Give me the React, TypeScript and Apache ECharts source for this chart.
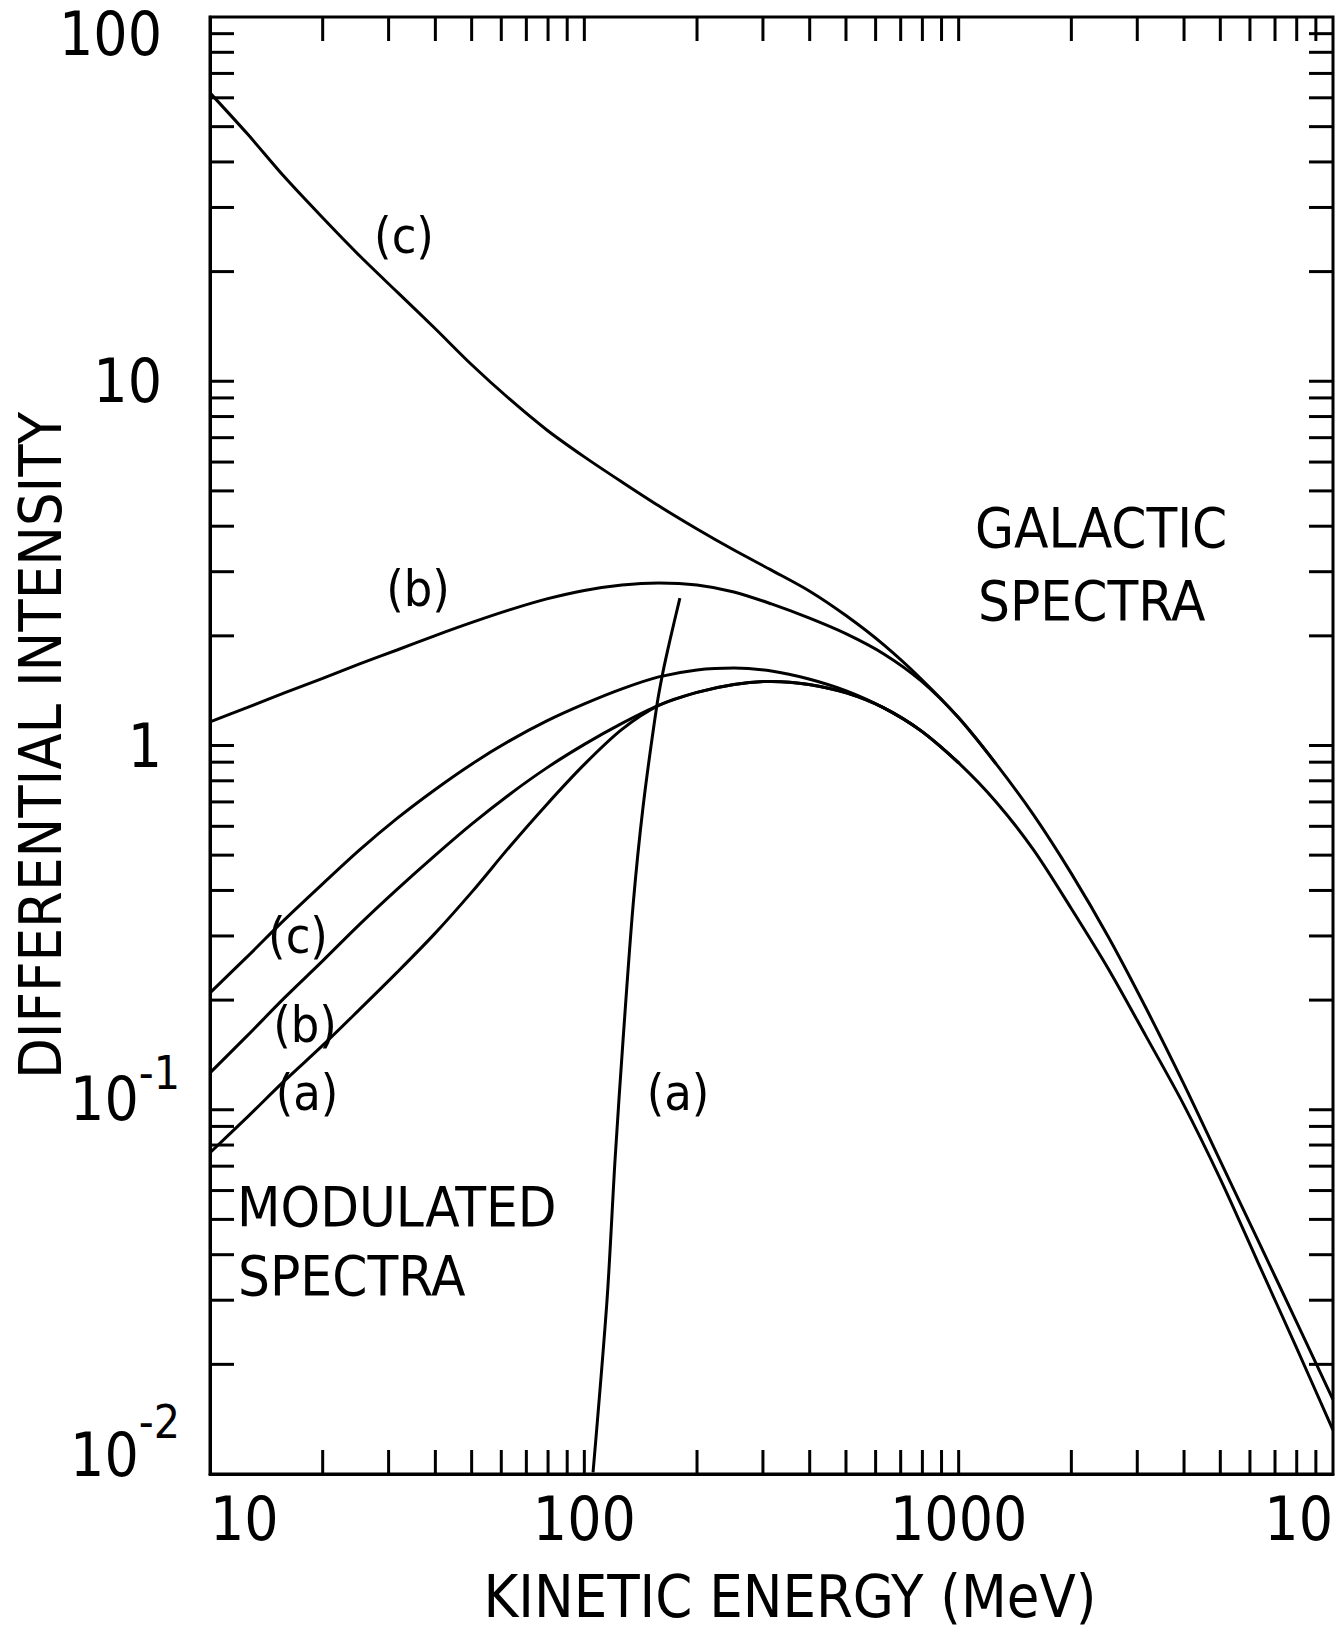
import React, { useEffect, useRef } from "react";
import * as echarts from "echarts";

// ---- Data (energy in MeV, differential intensity) ----
// energies sampled every 0.1 decade
const energyGrid = [10, 12.6, 15.8, 20, 25.1, 31.6, 39.8, 50.1, 63.1, 79.4, 100, 126, 158, 200, 251, 316, 398, 501, 631, 794, 1000, 1259, 1585, 1995, 2512, 3162, 3981, 5012, 6310, 7943, 10000];

const intensityGalacticC = [61.9, 47.7, 36.4, 28.1, 22.1, 17.59, 14.0, 11.08, 8.94, 7.35, 6.2, 5.29, 4.55, 3.93, 3.44, 3.03, 2.66, 2.27, 1.889, 1.523, 1.191, 0.89, 0.645, 0.447, 0.298, 0.1905, 0.1185, 0.0719, 0.0437, 0.0265, 0.016];
const intensityGalacticB = [1.161, 1.272, 1.394, 1.528, 1.675, 1.829, 2.0, 2.177, 2.356, 2.526, 2.665, 2.759, 2.795, 2.759, 2.64, 2.447, 2.24, 2.025, 1.784, 1.504, 1.191, 0.89];
const intensityModulatedC = [0.2094, 0.2637, 0.3321, 0.417, 0.5168, 0.6308, 0.7552, 0.8901, 1.0295, 1.1682, 1.3007, 1.4304, 1.543, 1.6128, 1.6331, 1.6025, 1.5231, 1.4124, 1.2683, 1.0966, 0.8959, 0.7, 0.517, 0.358, 0.2435, 0.1595, 0.1038, 0.0642, 0.038, 0.0225, 0.0132];
const intensityModulatedB = [0.1263, 0.16, 0.2028, 0.2563, 0.3228, 0.4027, 0.4977, 0.6092, 0.7339, 0.8681, 1.0069, 1.15, 1.2887, 1.399, 1.4714, 1.4997, 1.4714, 1.3945, 1.2683, 1.0966, 0.8959];
const intensityModulatedA = [0.0762, 0.0956, 0.12, 0.1502, 0.1886, 0.2383, 0.304, 0.3964, 0.5267, 0.6891, 0.8873, 1.107, 1.2887, 1.399, 1.4714, 1.4997, 1.4714, 1.3945, 1.2683, 1.0966, 0.8959];

// steep galactic spectrum (a)
const energyGalacticA = [105.5, 115, 120.8, 126.9, 135, 143.5, 156, 162, 169.4, 180];
const intensityGalacticA = [0.0101, 0.0301, 0.0729, 0.1555, 0.365, 0.678, 1.276, 1.582, 1.95, 2.54];

// tick marks (drawn inward on all four sides)
const xTickValues = [20, 30, 40, 50, 60, 70, 80, 90, 100, 200, 300, 400, 500, 600, 700, 800, 900, 1000, 2000, 3000, 4000, 5000, 6000, 7000, 8000, 9000];
const yTickValues = [0.02, 0.03, 0.04, 0.05, 0.06, 0.07, 0.08, 0.09, 0.1, 0.2, 0.3, 0.4, 0.5, 0.6, 0.7, 0.8, 0.9, 1, 2, 3, 4, 5, 6, 7, 8, 9, 10, 20, 30, 40, 50, 60, 70, 80, 90];

const xAxisTitle = "KINETIC ENERGY (MeV)";
const yAxisTitle = "DIFFERENTIAL INTENSITY";

const FONT = '"Liberation Sans Narrow", "DejaVu Sans Condensed", "Liberation Sans", sans-serif';
const TICK = 24;

const pairs = (xs: number[], ys: number[]) => ys.map((y, i) => [xs[i], y]);

const lineSeries = (name: string, xs: number[], ys: number[]) => ({
  name,
  type: "line",
  data: pairs(xs, ys),
  showSymbol: false,
  symbol: "none",
  smooth: 0.3,
  lineStyle: { color: "#000", width: 3 },
  z: 3,
});

export default function App() {
  const ref = useRef<HTMLDivElement>(null);

  useEffect(() => {
    document.body.style.margin = "0";
    const chart = echarts.init(ref.current as HTMLDivElement, null, { renderer: "svg" });

    const textEl = (text: string, x: number, y: number, size: number, align: string) => ({
      type: "text",
      x,
      y,
      silent: true,
      style: {
        text,
        fill: "#000",
        fontSize: size,
        fontFamily: FONT,
        textAlign: align,
        textVerticalAlign: "middle",
        align,
        verticalAlign: "middle",
      },
    });

    const option: any = {
      animation: false,
      backgroundColor: "#fff",
      grid: {
        left: 210,
        right: 11,
        top: 17,
        bottom: 161,
        show: true,
        borderColor: "#000",
        borderWidth: 3,
        containLabel: false,
        outerBoundsMode: "none",
      },
      xAxis: {
        type: "log",
        logBase: 10,
        min: 10,
        max: 10000,
        name: xAxisTitle,
        nameLocation: "middle",
        nameGap: 93,
        nameMoveOverlap: false,
        nameTextStyle: { fontSize: 59, fontFamily: FONT, color: "#000", padding: [0, 0, 0, 37] },
        axisLine: { show: true, lineStyle: { color: "#000", width: 3 } },
        axisTick: { show: false },
        minorTick: { show: false },
        splitLine: { show: false },
        axisLabel: {
          color: "#000",
          fontSize: 60,
          fontFamily: FONT,
          margin: 15,
          showMinLabel: true,
          showMaxLabel: true,
          alignMinLabel: "left",
          alignMaxLabel: "right",
          formatter: (v: number) => {
            const e = Math.round(Math.log10(v));
            return e >= 4 ? "10" : String(Math.round(Math.pow(10, e)));
          },
        },
      },
      yAxis: {
        type: "log",
        logBase: 10,
        min: 0.01,
        max: 100,
        name: yAxisTitle,
        nameLocation: "middle",
        nameGap: 140,
        nameMoveOverlap: false,
        nameTextStyle: { fontSize: 59, fontFamily: FONT, color: "#000" },
        axisLine: { show: true, lineStyle: { color: "#000", width: 3 } },
        axisTick: { show: false },
        minorTick: { show: false },
        splitLine: { show: false },
        axisLabel: {
          color: "#000",
          fontSize: 60,
          fontFamily: FONT,
          margin: 30,
          showMinLabel: true,
          showMaxLabel: true,
          formatter: (v: number) => {
            const e = Math.round(Math.log10(v));
            if (e === 2) return "{t|100}";
            if (e >= 0) return "{n|" + String(Math.round(Math.pow(10, e))) + "}";
            if (e === -1) return "{b1|10}{s1|-1}";
            return "{b2|10}{s2|-2}";
          },
          rich: {
            n: { fontSize: 60, fontFamily: FONT, color: "#000", padding: [0, 18, 0, 0] },
            t: { fontSize: 60, fontFamily: FONT, color: "#000", padding: [34, 18, 0, 0] },
            b1: { fontSize: 60, fontFamily: FONT, color: "#000", verticalAlign: "bottom", padding: [0, 0, 41, 0] },
            s1: { fontSize: 46, fontFamily: FONT, color: "#000", verticalAlign: "top", padding: [0, 0, 74, 0] },
            b2: { fontSize: 60, fontFamily: FONT, color: "#000", verticalAlign: "bottom", padding: [0, 0, 64, 0] },
            s2: { fontSize: 46, fontFamily: FONT, color: "#000", verticalAlign: "top", padding: [0, 0, 104, 0] },
          },
        },
      },
      series: [
        lineSeries("Galactic (c)", energyGrid, intensityGalacticC),
        lineSeries("Galactic (b)", energyGrid, intensityGalacticB),
        lineSeries("Galactic (a)", energyGalacticA, intensityGalacticA),
        lineSeries("Modulated (c)", energyGrid, intensityModulatedC),
        lineSeries("Modulated (b)", energyGrid, intensityModulatedB),
        lineSeries("Modulated (a)", energyGrid, intensityModulatedA),
        {
          name: "x ticks",
          type: "custom",
          coordinateSystem: "cartesian2d",
          silent: true,
          clip: false,
          z: 6,
          data: xTickValues.map((v) => [v, 1]),
          renderItem: (params: any, api: any) => {
            const x = api.coord([api.value(0), 1])[0];
            const cs = params.coordSys;
            const yb = cs.y + cs.height;
            const yt = cs.y;
            return {
              type: "group",
              children: [
                { type: "line", shape: { x1: x, y1: yb, x2: x, y2: yb - TICK }, style: { stroke: "#000", lineWidth: 3 } },
                { type: "line", shape: { x1: x, y1: yt, x2: x, y2: yt + TICK }, style: { stroke: "#000", lineWidth: 3 } },
              ],
            };
          },
        },
        {
          name: "y ticks",
          type: "custom",
          coordinateSystem: "cartesian2d",
          silent: true,
          clip: false,
          z: 6,
          data: yTickValues.map((v) => [100, v]),
          renderItem: (params: any, api: any) => {
            const y = api.coord([100, api.value(1)])[1];
            const cs = params.coordSys;
            const xl = cs.x;
            const xr = cs.x + cs.width;
            return {
              type: "group",
              children: [
                { type: "line", shape: { x1: xl, y1: y, x2: xl + TICK, y2: y }, style: { stroke: "#000", lineWidth: 3 } },
                { type: "line", shape: { x1: xr, y1: y, x2: xr - TICK, y2: y }, style: { stroke: "#000", lineWidth: 3 } },
              ],
            };
          },
        },
      ],
      graphic: [
        textEl("(c)", 404, 236, 50, "center"),
        textEl("(b)", 418, 589, 50, "center"),
        textEl("(c)", 298, 936, 50, "center"),
        textEl("(b)", 305, 1025, 50, "center"),
        textEl("(a)", 307, 1093, 50, "center"),
        textEl("(a)", 678, 1093, 50, "center"),
        textEl("GALACTIC", 975, 527, 56, "left"),
        textEl("SPECTRA", 978, 600, 56, "left"),
        textEl("MODULATED", 237, 1206, 56, "left"),
        textEl("SPECTRA", 238, 1275, 56, "left"),
      ],
    };

    chart.setOption(option);
    return () => chart.dispose();
  }, []);

  return <div ref={ref} style={{ width: 1344, height: 1635 }} />;
}
